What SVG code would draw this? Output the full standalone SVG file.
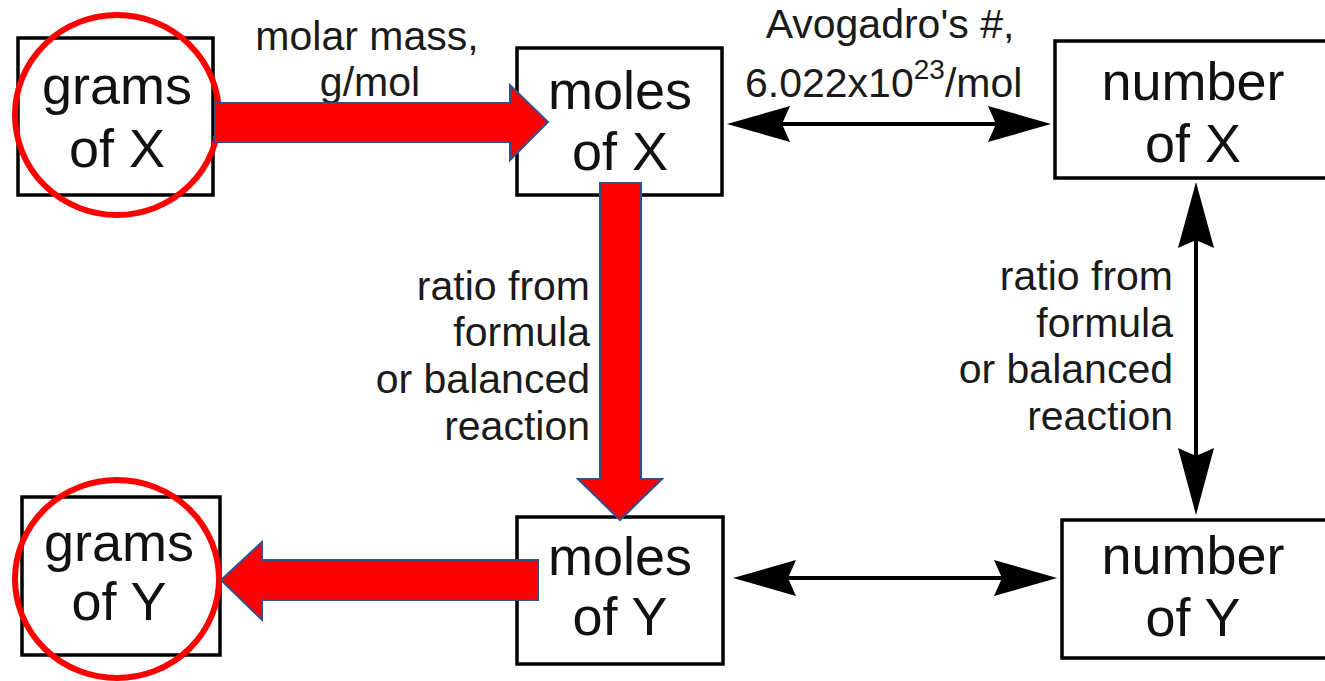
<svg xmlns="http://www.w3.org/2000/svg" width="1325" height="681" viewBox="0 0 1325 681">
<style>
.box{fill:#fff;stroke:#000;stroke-width:3.5}
.nt{font-family:"Liberation Sans",Arial,sans-serif;font-size:54px;fill:#111;text-anchor:middle}
.lb{font-family:"Liberation Sans",Arial,sans-serif;font-size:41px;fill:#1a1a1a}
.ring{fill:none;stroke:#f00;stroke-width:6}
.big{fill:#f00;stroke:#2f528f;stroke-width:2;stroke-linejoin:miter}
.ln{stroke:#000;stroke-width:4;fill:none}
.hd{fill:#000}
</style>
<rect width="1325" height="681" fill="#fff"/>
<g id="node-grams-x">
<rect class="box" x="18" y="38" width="195" height="157"/>
<text class="nt" x="117" y="104">grams</text>
<text class="nt" x="117" y="167">of X</text>
</g>
<g id="node-moles-x">
<rect class="box" x="517" y="48" width="205" height="147"/>
<text class="nt" x="620" y="109">moles</text>
<text class="nt" x="620" y="170">of X</text>
</g>
<g id="node-number-x">
<rect class="box" x="1055" y="41" width="275" height="137"/>
<text class="nt" x="1193" y="100">number</text>
<text class="nt" x="1193" y="162">of X</text>
</g>
<g id="node-grams-y">
<rect class="box" x="22" y="497" width="198" height="158"/>
<text class="nt" x="119" y="561">grams</text>
<text class="nt" x="119" y="620">of Y</text>
</g>
<g id="node-moles-y">
<rect class="box" x="517" y="517" width="206" height="147"/>
<text class="nt" x="620" y="575">moles</text>
<text class="nt" x="620" y="635">of Y</text>
</g>
<g id="node-number-y">
<rect class="box" x="1062" y="520" width="270" height="138"/>
<text class="nt" x="1193" y="574">number</text>
<text class="nt" x="1193" y="636">of Y</text>
</g>
<g id="labels">
<text class="lb" x="367" y="50" text-anchor="middle">molar mass,</text>
<text class="lb" x="370" y="96" text-anchor="middle">g/mol</text>
<text class="lb" x="890" y="38" text-anchor="middle" font-size="43">Avogadro's #,</text>
<text class="lb" x="745" y="97" font-size="42">6.022x10<tspan font-size="28" dy="-18">23</tspan><tspan dy="18">/mol</tspan></text>
<g text-anchor="end">
<text class="lb" x="590" y="300">ratio from</text>
<text class="lb" x="590" y="346">formula</text>
<text class="lb" x="590" y="393">or balanced</text>
<text class="lb" x="590" y="440">reaction</text>
<text class="lb" x="1173" y="290">ratio from</text>
<text class="lb" x="1173" y="337">formula</text>
<text class="lb" x="1173" y="383">or balanced</text>
<text class="lb" x="1173" y="430">reaction</text>
</g>
</g>
<g id="connectors">
<line class="ln" x1="760" y1="124" x2="1020" y2="124"/>
<polygon class="hd" points="727,124 790,106 782,124 790,142"/>
<polygon class="hd" points="1051,124 988,106 996,124 988,142"/>
<line class="ln" x1="765" y1="578" x2="1025" y2="578"/>
<polygon class="hd" points="733,578 796,560 788,578 796,596"/>
<polygon class="hd" points="1057,578 994,560 1002,578 994,596"/>
<line class="ln" x1="1196" y1="215" x2="1196" y2="480"/>
<polygon class="hd" points="1196,182 1214,248 1196,240 1178,248"/>
<polygon class="hd" points="1196,515 1214,448 1196,456 1178,448"/>
</g>
<g id="highlights">
<ellipse class="ring" cx="117" cy="115" rx="102" ry="100"/>
<ellipse class="ring" cx="117" cy="579" rx="102" ry="99"/>
<polygon class="big" points="215,103 510,103 510,85 548,122 510,160 510,142 215,142"/>
<polygon class="big" points="600,183 641,183 641,479 662,479 620,520 578,479 600,479"/>
<polygon class="big" points="538,560 262,560 262,542 221,580 262,620 262,600 538,600"/>
</g>
</svg>
